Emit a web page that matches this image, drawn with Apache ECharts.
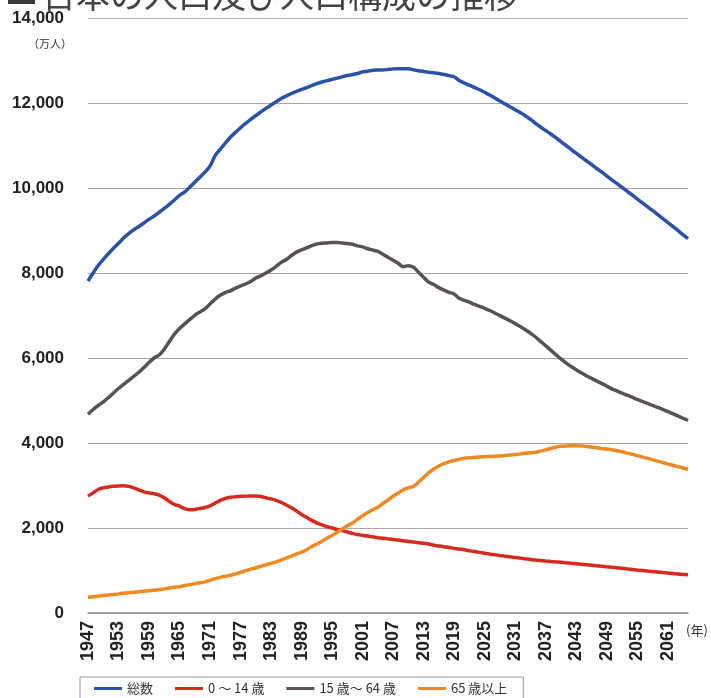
<!DOCTYPE html>
<html lang="ja">
<head>
<meta charset="utf-8" />
<title>日本の人口及び人口構成の推移</title>
<script src="https://cdn.jsdelivr.net/npm/echarts@6/dist/echarts.min.js"></script>
<style>
  html, body { margin: 0; padding: 0; background: #fff; }
  #main { width: 711px; height: 698px; }
</style>
</head>
<body>
<div id="main"></div>
<script>
// 1947 - 2065 (annual)
var years = [];
for (var y = 1947; y <= 2065; y++) years.push(String(y));

var total = [
  7810, 8000, 8177, 8320, 8454, 8581, 8698, 8824, 8928, 9017,
  9093, 9177, 9264, 9342, 9429, 9518, 9616, 9718, 9828, 9904,
  10020, 10133, 10254, 10372, 10515, 10760, 10910, 11057, 11194, 11309,
  11417, 11519, 11616, 11706, 11790, 11873, 11954, 12031, 12105, 12166,
  12224, 12275, 12321, 12361, 12410, 12457, 12494, 12527, 12557, 12586,
  12616, 12649, 12669, 12693, 12732, 12749, 12769, 12779, 12777, 12790,
  12803, 12808, 12803, 12806, 12783, 12759, 12741, 12724, 12709, 12693,
  12671, 12644, 12617, 12532, 12470, 12419, 12368, 12311, 12254, 12187,
  12117, 12047, 11979, 11913, 11843, 11774, 11699, 11617, 11522, 11435,
  11352, 11270, 11184, 11092, 11001, 10908, 10819, 10729, 10642, 10554,
  10465, 10377, 10286, 10192, 10107, 10018, 9928, 9837, 9744, 9653,
  9563, 9471, 9378, 9284, 9190, 9096, 9001, 8904, 8808
];

var age0to14 = [
  2750, 2826, 2906, 2943, 2966, 2983, 2991, 2995, 2980, 2945,
  2897, 2851, 2826, 2807, 2776, 2711, 2624, 2553, 2517, 2455,
  2432, 2438, 2457, 2482, 2520, 2585, 2650, 2695, 2722, 2735,
  2746, 2750, 2751, 2751, 2740, 2712, 2684, 2652, 2603, 2543,
  2475, 2401, 2320, 2249, 2180, 2120, 2071, 2030, 2001, 1966,
  1937, 1905, 1874, 1847, 1828, 1810, 1791, 1773, 1759, 1744,
  1729, 1718, 1701, 1684, 1671, 1655, 1639, 1623, 1595, 1578,
  1559, 1542, 1521, 1507, 1487, 1466, 1446, 1426, 1407, 1388,
  1370, 1353, 1337, 1321, 1306, 1291, 1275, 1261, 1246, 1234,
  1223, 1213, 1203, 1194, 1183, 1172, 1161, 1149, 1138, 1126,
  1114, 1102, 1089, 1077, 1064, 1051, 1038, 1025, 1012, 1000,
  987, 975, 963, 951, 940, 929, 919, 908, 898
];

var age15to64 = [
  4678, 4789, 4883, 4966, 5069, 5178, 5282, 5379, 5473, 5568,
  5665, 5775, 5896, 6000, 6071, 6207, 6388, 6560, 6692, 6803,
  6903, 7004, 7084, 7157, 7270, 7385, 7475, 7540, 7581, 7643,
  7694, 7741, 7799, 7883, 7933, 7998, 8070, 8155, 8251, 8318,
  8411, 8491, 8546, 8590, 8642, 8683, 8702, 8707, 8716, 8716,
  8704, 8692, 8676, 8638, 8614, 8571, 8540, 8508, 8442, 8373,
  8301, 8230, 8149, 8173, 8134, 8018, 7901, 7785, 7728, 7656,
  7596, 7545, 7507, 7406, 7357, 7313, 7260, 7215, 7170, 7117,
  7059, 6998, 6937, 6875, 6809, 6740, 6666, 6585, 6494, 6393,
  6290, 6185, 6081, 5978, 5886, 5801, 5725, 5653, 5584, 5522,
  5461, 5402, 5340, 5275, 5225, 5174, 5126, 5077, 5028, 4981,
  4935, 4887, 4840, 4793, 4742, 4690, 4637, 4583, 4529
];

var age65over = [
  374, 380, 398, 411, 423, 437, 450, 463, 475, 488,
  502, 512, 521, 535, 551, 569, 589, 606, 618, 646,
  668, 690, 713, 733, 770, 809, 839, 865, 887, 922,
  958, 995, 1031, 1065, 1101, 1135, 1168, 1204, 1247, 1290,
  1338, 1390, 1431, 1489, 1563, 1622, 1690, 1759, 1826, 1902,
  1976, 2051, 2119, 2204, 2287, 2363, 2431, 2488, 2576, 2660,
  2746, 2822, 2901, 2948, 2975, 3079, 3190, 3300, 3387, 3459,
  3515, 3557, 3589, 3619, 3640, 3653, 3662, 3670, 3677, 3682,
  3688, 3696, 3705, 3716, 3728, 3743, 3758, 3771, 3782, 3808,
  3839, 3872, 3900, 3921, 3932, 3935, 3933, 3927, 3919, 3906,
  3890, 3873, 3857, 3841, 3818, 3793, 3764, 3735, 3704, 3672,
  3641, 3609, 3575, 3540, 3508, 3477, 3445, 3413, 3381
];

var seriesNames = ['総数', '0 ～ 14 歳', '15 歳～ 64 歳', '65 歳以上'];

var chart = echarts.init(document.getElementById('main'), null, {renderer: 'canvas'});

var gridColor = '#aea3a3';
var font = '"Liberation Sans", Arial, "Noto Sans CJK JP", sans-serif';
var jpFont = '"Noto Sans CJK JP", sans-serif';

function line(name, data, color) {
  return {
    name: name,
    type: 'line',
    data: data,
    showSymbol: false,
    smooth: 0.3,
    lineStyle: { color: color, width: 3.5 },
    itemStyle: { color: color }
  };
}

chart.setOption({
  animation: false,
  backgroundColor: '#fff',
  grid: { left: 88, right: 23, top: 18, bottom: 85 },
  graphic: [
    { type: 'rect', shape: { x: 8, y: 0, width: 27, height: 4 }, style: { fill: '#3a3a3a' } },
    { type: 'text', left: 42, top: -22,
      style: { text: '日本の人口及び人口構成の推移', font: '34px ' + jpFont, fill: '#444', letterSpacing: 1 } },
    { type: 'text', left: 28, top: 38,
      style: { text: '（万人）', font: '11px ' + jpFont, fill: '#333' } },
    { type: 'text', left: 686, top: 624,
      style: { text: '(年)', font: '13px ' + jpFont, fill: '#333' } }
  ],
  legend: {
    data: seriesNames,
    left: 80,
    top: 677,
    padding: [5, 16, 8, 14],
    itemGap: 22,
    itemWidth: 28,
    itemHeight: 3,
    icon: 'rect',
    borderColor: '#999',
    borderWidth: 1,
    textStyle: { fontSize: 13, color: '#333', fontFamily: jpFont }
  },
  xAxis: {
    type: 'category',
    data: years,
    boundaryGap: false,
    axisLine: { lineStyle: { color: '#9d9393', width: 1.5 } },
    axisTick: { show: false },
    axisLabel: {
      interval: 5,
      rotate: 90,
      margin: 8,
      fontSize: 18,
      fontWeight: 'bold',
      fontFamily: font,
      color: '#222'
    },
    splitLine: { show: false }
  },
  yAxis: {
    type: 'value',
    min: 0,
    max: 14000,
    interval: 2000,
    axisLine: { show: false },
    axisTick: { show: false },
    axisLabel: {
      margin: 24,
      fontSize: 17,
      fontWeight: 'bold',
      fontFamily: font,
      color: '#222',
      formatter: function (v) { return v.toLocaleString('en-US'); }
    },
    splitLine: { lineStyle: { color: gridColor, width: 1.2 } }
  },
  series: [
    line(seriesNames[0], total, '#2a52a8'),
    line(seriesNames[2], age15to64, '#5a5252'),
    line(seriesNames[1], age0to14, '#d42a20'),
    line(seriesNames[3], age65over, '#ef8a22')
  ]
});
</script>
</body>
</html>
